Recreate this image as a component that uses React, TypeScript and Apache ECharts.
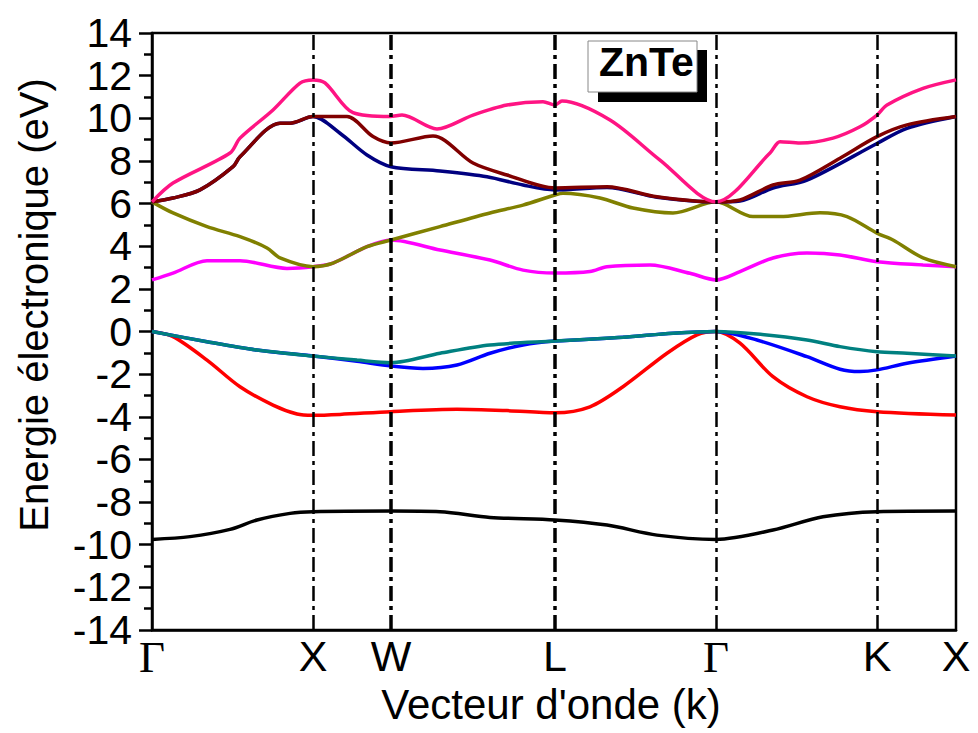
import React, { useEffect, useRef } from "react";
import * as echarts from "echarts";

// k-path high-symmetry positions (path length units) and labels
const kPos = [0, 161, 239, 403, 564, 725, 804];
const kLabels = ["Γ", "X", "W", "L", "Γ", "K", "X"];

// Y axis
const yMin = -14;
const yMax = 14;

// Bands: [k, E(eV)]
const bandPink: [number, number][] = [
  [0, 6.08], [21, 6.96], [78, 8.37], [88, 9.07], [121, 10.39], [148, 11.65], [161, 11.8], [173, 11.66],
  [201, 10.26], [238, 10.08], [250, 10.15], [285, 9.5], [321, 10.15], [355, 10.62], [391, 10.78],
  [403, 10.62], [410, 10.81], [458, 9.92], [508, 8.04], [564, 6.08], [618, 8.37], [628, 8.9],
  [648, 8.84], [681, 9.07], [708, 9.6], [725, 10.15], [735, 10.62], [771, 11.4], [804, 11.8],
];
const bandMaroon: [number, number][] = [
  [0, 6.08], [21, 6.26], [48, 6.64], [81, 7.73], [88, 8.2], [128, 9.77], [138, 9.77], [161, 10.08],
  [195, 10.08], [221, 9.14], [239, 8.84], [281, 9.17], [321, 7.9], [355, 7.34], [403, 6.73],
  [455, 6.79], [505, 6.32], [564, 6.08], [588, 6.17], [621, 6.87], [648, 7.1], [688, 8.13],
  [725, 9.14], [755, 9.69], [804, 10.08],
];
const bandNavy: [number, number][] = [
  [0, 6.08], [21, 6.26], [48, 6.64], [81, 7.73], [88, 8.2], [128, 9.77], [138, 9.77], [161, 10.08],
  [188, 9.3], [215, 8.28], [239, 7.73], [288, 7.53], [335, 7.26], [371, 6.87], [403, 6.64],
  [455, 6.75], [505, 6.3], [564, 6.08], [588, 6.12], [621, 6.73], [655, 7.1], [725, 8.82],
  [755, 9.53], [804, 10.08],
];
const bandOlive: [number, number][] = [
  [0, 6.08], [21, 5.56], [55, 4.92], [88, 4.45], [115, 3.92], [128, 3.45], [161, 3.04], [181, 3.21],
  [215, 3.98], [239, 4.29], [288, 4.92], [338, 5.56], [371, 5.93], [403, 6.4], [411, 6.48],
  [448, 6.26], [481, 5.79], [521, 5.56], [564, 6.08], [601, 5.39], [628, 5.39], [668, 5.57],
  [695, 5.39], [725, 4.61], [741, 4.29], [771, 3.45], [804, 3.04],
];
const bandMagenta: [number, number][] = [
  [0, 2.42], [21, 2.74], [55, 3.32], [88, 3.32], [135, 2.96], [161, 3.04], [181, 3.21], [215, 3.98],
  [239, 4.29], [288, 3.82], [338, 3.35], [371, 2.88], [403, 2.74], [438, 2.81], [455, 3.04],
  [498, 3.12], [538, 2.73], [564, 2.42], [588, 2.81], [621, 3.45], [655, 3.68], [688, 3.59],
  [725, 3.27], [771, 3.12], [804, 3.04],
];
const bandTeal: [number, number][] = [
  [0, 0], [55, -0.48], [105, -0.87], [161, -1.15], [205, -1.34], [239, -1.46], [288, -1.02],
  [338, -0.63], [403, -0.45], [471, -0.27], [521, -0.08], [564, 0], [605, -0.12], [655, -0.4],
  [688, -0.71], [725, -0.95], [755, -1.02], [804, -1.15],
];
const bandBlue: [number, number][] = [
  [0, 0], [55, -0.48], [105, -0.87], [161, -1.15], [205, -1.4], [239, -1.62], [271, -1.73],
  [305, -1.57], [338, -1.02], [371, -0.63], [403, -0.45], [471, -0.27], [521, -0.08], [564, 0],
  [605, -0.4], [655, -1.18], [688, -1.77], [708, -1.88], [725, -1.8], [755, -1.49], [804, -1.15],
];
const bandRed: [number, number][] = [
  [0, 0], [21, -0.24], [55, -1.34], [88, -2.59], [121, -3.45], [145, -3.87], [161, -3.93],
  [188, -3.89], [239, -3.76], [305, -3.65], [355, -3.71], [403, -3.81], [438, -3.53], [471, -2.59],
  [515, -1.02], [545, -0.16], [564, 0], [588, -0.55], [621, -2.12], [655, -3.06], [688, -3.53],
  [725, -3.76], [804, -3.92],
];
const bandBlack: [number, number][] = [
  [0, -9.75], [38, -9.62], [78, -9.28], [105, -8.84], [138, -8.53], [161, -8.45], [239, -8.42],
  [288, -8.45], [338, -8.72], [403, -8.84], [455, -9.08], [505, -9.55], [564, -9.75], [621, -9.31],
  [671, -8.69], [725, -8.45], [804, -8.42],
];

const bands = [
  { name: "b1", data: bandBlack, color: "#000000" },
  { name: "b2", data: bandRed, color: "#ff0000" },
  { name: "b3", data: bandBlue, color: "#0000ff" },
  { name: "b4", data: bandTeal, color: "#008080" },
  { name: "b5", data: bandMagenta, color: "#ff00ff" },
  { name: "b6", data: bandOlive, color: "#808000" },
  { name: "b7", data: bandNavy, color: "#000080" },
  { name: "b8", data: bandMaroon, color: "#800000" },
  { name: "b9", data: bandPink, color: "#ff1483" },
];

const SANS = "'Liberation Sans', Arial, sans-serif";
const SERIF = "'Liberation Serif', 'Times New Roman', serif";
const DASH = [15, 5, 4, 5];

export default function App() {
  const ref = useRef<HTMLDivElement>(null);
  useEffect(() => {
    if (!ref.current) return;
    const chart = echarts.init(ref.current, null, { renderer: "svg" });
    const inner = kPos.slice(1, -1);
    chart.setOption({
      animation: false,
      backgroundColor: "#ffffff",
      grid: {
        left: 152, right: 22, top: 33, bottom: 103,
        show: true, borderColor: "#000", borderWidth: 2.5,
      },
      xAxis: {
        type: "value",
        min: kPos[0],
        max: kPos[kPos.length - 1],
        splitLine: { show: false },
        axisLine: { show: true, onZero: false, lineStyle: { color: "#000", width: 2.5 } },
        axisTick: { show: false },
        axisLabel: {
          customValues: kPos,
          margin: 4,
          color: "#000",
          formatter: (v: number) => {
            const i = kPos.indexOf(v);
            const l = i >= 0 ? kLabels[i] : "";
            return l === "Γ" ? "{g|Γ}" : "{s|" + l + "}";
          },
          rich: {
            g: { fontFamily: SERIF, fontSize: 45, color: "#000" },
            s: { fontFamily: SANS, fontSize: 43, color: "#000" },
          },
        },
      },
      yAxis: {
        type: "value",
        min: yMin,
        max: yMax,
        interval: 2,
        splitLine: { show: false },
        axisLine: { show: true, onZero: false, lineStyle: { color: "#000", width: 2.5 } },
        axisTick: { show: true, inside: false, length: 13, lineStyle: { color: "#000", width: 2.5 } },
        minorTick: { show: true, splitNumber: 2, length: 8, lineStyle: { color: "#000", width: 2.5 } },
        axisLabel: { margin: 20, color: "#000", fontFamily: SANS, fontSize: 41 },
      },
      graphic: [
        {
          type: "text",
          x: 34, y: 305,
          rotation: Math.PI / 2,
          style: {
            text: "Energie électronique (eV)",
            fontFamily: SANS, fontSize: 40, fill: "#000",
            textAlign: "center", textVerticalAlign: "middle",
          },
        },
        {
          type: "text",
          x: 551, y: 704,
          style: {
            text: "Vecteur d'onde (k)",
            fontFamily: SANS, fontSize: 42, fill: "#000",
            textAlign: "center", textVerticalAlign: "middle",
          },
        },
        {
          type: "rect",
          shape: { x: 598, y: 50, width: 109, height: 52 },
          style: { fill: "#000" },
          z: 100,
        },
        {
          type: "rect",
          shape: { x: 588, y: 41, width: 109, height: 51 },
          style: { fill: "#fff", stroke: "#888", lineWidth: 1 },
          z: 101,
        },
        {
          type: "text",
          x: 599, y: 62,
          style: {
            text: "ZnTe",
            fontFamily: SANS, fontWeight: "bold", fontSize: 41, fill: "#000",
            textAlign: "left", textVerticalAlign: "middle",
          },
          z: 102,
        },
      ],
      series: [
        {
          type: "line",
          data: [],
          markLine: {
            silent: true,
            symbol: ["none", "none"],
            label: { show: false },
            lineStyle: { color: "#000", type: DASH, width: 2.5 },
            data: inner.map((x, i) => ({
              xAxis: x,
              lineStyle: { color: "#000", type: DASH, width: i === 1 || i === 2 ? 3.5 : 2.5 },
            })),
          },
        },
        ...bands.map((b) => ({
          type: "line",
          name: b.name,
          data: b.data,
          smooth: 0.3,
          showSymbol: false,
          lineStyle: { color: b.color, width: 3.5 },
          itemStyle: { color: b.color },
        })),
      ],
    });
    return () => chart.dispose();
  }, []);
  return (
    <div
      ref={ref}
      style={{ position: "absolute", left: 0, top: 0, width: 978, height: 733 }}
    />
  );
}
